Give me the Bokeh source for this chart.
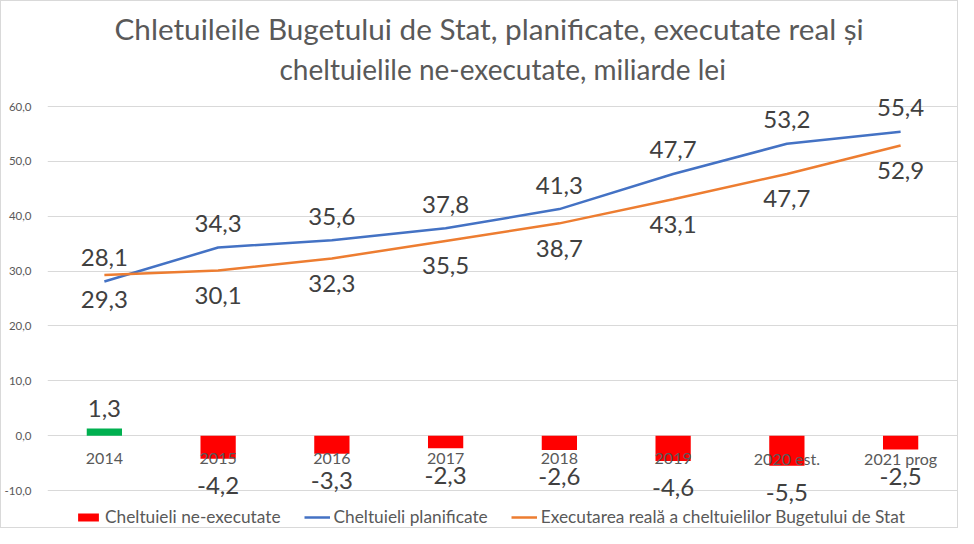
from bokeh.plotting import figure
from bokeh.models import (FactorRange, FixedTicker, CustomJSTickFormatter, Legend,
                          LegendItem, Title, ColumnDataSource)
from bokeh.core.properties import value
from bokeh.embed import file_html
from bokeh.resources import INLINE

years = ["2014", "2015", "2016", "2017", "2018", "2019", "2020 est.", "2021 prog"]
planned = [28.1, 34.3, 35.6, 37.8, 41.3, 47.7, 53.2, 55.4]
executed = [29.3, 30.1, 32.3, 35.5, 38.7, 43.1, 47.7, 52.9]
unexecuted = [1.3, -4.2, -3.3, -2.3, -2.6, -4.6, -5.5, -2.5]
y_ticks = [-10, 0, 10, 20, 30, 40, 50, 60]
title_lines = ["Chletuileile Bugetului de Stat, planificate, executate real și",
               "cheltuielile ne-executate, miliarde lei"]
legend_labels = ["Cheltuieli ne-executate", "Cheltuieli planificate",
                 "Executarea reală a cheltuielilor Bugetului de Stat"]

FONT = "Lato"
BLUE = "#4472c4"
ORANGE = "#ed7d31"
RED = "#ff0000"
GREEN = "#00b050"
GRID = "#d9d9d9"
LABEL = "#404040"
AXIS_TXT = "#595959"


def fmt(v):
    return f"{v:.1f}".replace(".", ",")


# the frame reaches a little above 60 (room for labels) and below the -10
# gridline so that the legend fits inside it
p = figure(width=958, height=528,
           x_range=FactorRange(factors=years, range_padding=0),
           y_range=(-16.74, 63.1),
           output_backend="svg", toolbar_location=None,
           min_border_left=45, min_border_right=2,
           min_border_top=88, min_border_bottom=2)

p.outline_line_color = None
p.xaxis.visible = False
p.xgrid.visible = False
p.ygrid.grid_line_color = GRID
p.ygrid.grid_line_width = 1
p.yaxis.ticker = FixedTicker(ticks=y_ticks)
p.yaxis.formatter = CustomJSTickFormatter(code="return tick.toFixed(1).replace('.', ',');")
p.yaxis.axis_line_color = None
p.yaxis.major_tick_line_color = None
p.yaxis.minor_tick_line_color = None
p.yaxis.major_label_text_font = FONT
p.yaxis.major_label_text_font_size = "11.5px"
p.yaxis.major_label_text_color = AXIS_TXT
p.yaxis.major_label_standoff = 10

bar_src = ColumnDataSource(dict(
    x=years, top=unexecuted,
    color=[GREEN if v > 0 else RED for v in unexecuted],
))
r_bar = p.vbar(x="x", top="top", bottom=0, width=0.31, fill_color="color",
               line_color=None, source=bar_src)

r_plan = p.line(years, planned, line_color=BLUE, line_width=2.5)
r_exec = p.line(years, executed, line_color=ORANGE, line_width=2.5)

# category labels sitting just under the zero line
p.text(x=years, y=[0] * len(years), text=years, y_offset=23,
       text_align="center", text_baseline="middle",
       text_font=value(FONT), text_font_size="16px", text_color=AXIS_TXT)

# data labels
p.text(x=years, y=planned, text=[fmt(v) for v in planned], y_offset=-24,
       text_align="center", text_baseline="middle",
       text_font=value(FONT), text_font_size="24px", text_color=LABEL)
p.text(x=years, y=executed, text=[fmt(v) for v in executed], y_offset=25,
       text_align="center", text_baseline="middle",
       text_font=value(FONT), text_font_size="24px", text_color=LABEL)
p.text(x=years, y=unexecuted, text=[fmt(v) for v in unexecuted],
       y_offset=[-20 if v > 0 else 27 for v in unexecuted],
       text_align="center", text_baseline="middle",
       text_font=value(FONT), text_font_size="24px", text_color=LABEL)

legend = Legend(items=[
    LegendItem(label=legend_labels[0], renderers=[r_bar], index=1),
    LegendItem(label=legend_labels[1], renderers=[r_plan]),
    LegendItem(label=legend_labels[2], renderers=[r_exec]),
], orientation="horizontal", location=(28, 0),
    border_line_color=None, background_fill_alpha=0,
    label_text_font=FONT, label_text_font_size="17.3px", label_text_color=AXIS_TXT,
    glyph_width=26, glyph_height=10, spacing=23, label_standoff=4, padding=0,
    margin=0)
p.add_layout(legend, "center")

t2 = Title(text=title_lines[1], align="left", offset=232, standoff=8,
           text_font=FONT, text_font_size="28px", text_font_style="normal",
           text_color=AXIS_TXT)
t1 = Title(text=title_lines[0], align="left", offset=67, standoff=0,
           text_font=FONT, text_font_size="29.7px", text_font_style="normal",
           text_color=AXIS_TXT)
p.add_layout(t2, "above")
p.add_layout(t1, "above")

p.styles = {"border": "1px solid #d9d9d9"}

open("out.html", "w").write(file_html(p, INLINE))
